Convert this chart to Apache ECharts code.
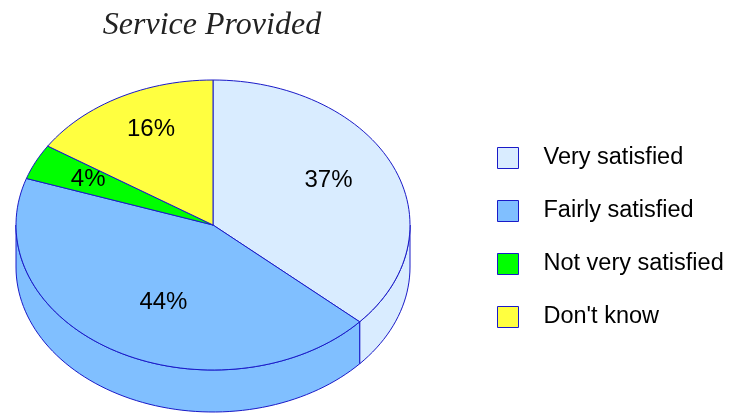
<!DOCTYPE html>
<html>
<head>
<meta charset="utf-8">
<title>Service Provided</title>
<script src="https://cdn.jsdelivr.net/npm/echarts@6/dist/echarts.min.js"></script>
<style>
html,body{margin:0;padding:0;background:#fff;}
#main{width:731px;height:414px;}
</style>
</head>
<body>
<div id="main"></div>
<script>
var names=['Very satisfied','Fairly satisfied','Not very satisfied',"Don't know"];
var values=[37,44,4,16];
var colors=['#d9ecff','#80bfff','#00ff00','#ffff40'];
var lineColor='#1a1ac8';

// ellipse layout of the tilted pie
var cx=213,cy=225,rx=197,ry=145,depth=42;
// small hand nudges for the % labels
var labelNudge=[[-5,-2],[17,-4],[-6,0],[1,-7]];
var total=0;
for(var i=0;i<values.length;i++){ total+=values[i]; }

function pt(deg,dy){
	var r=deg*Math.PI/180;
	return [cx+rx*Math.sin(r), cy-ry*Math.cos(r)+(dy||0)];
}
function arc(a,b,dy){
	var out=[];
	var n=Math.max(2,Math.ceil((b-a)/2));
	for(var k=0;k<=n;k++){
		out.push(pt(a+(b-a)*k/n,dy));
	}
	return out;
}

function makeSlice(idx){
	return function(params,api){
		var v=api.value(0);
		var start=0;
		for(var j=0;j<idx;j++){ start+=values[j]; }
		var a=start/total*360, b=(start+v)/total*360;
		var kids=[];
		// front wall, only the part facing us
		var s=Math.max(a,90), e=Math.min(b,270);
		if(e>s){
			var side=arc(s,e,0).concat(arc(s,e,depth).reverse());
			kids.push({type:'polygon',shape:{points:side},style:{fill:colors[idx],stroke:lineColor,lineWidth:1}});
		}
		var top=[[cx,cy]].concat(arc(a,b,0));
		kids.push({type:'polygon',shape:{points:top},style:{fill:colors[idx],stroke:lineColor,lineWidth:1}});
		var m=(a+b)/2*Math.PI/180;
		kids.push({
			type:'text',
			x:cx+rx*0.67*Math.sin(m)+labelNudge[idx][0],
			y:cy-ry*0.67*Math.cos(m)-3+labelNudge[idx][1],
			style:{
				text:v+'%',
				fill:'#000',
				font:'24px "Liberation Sans", Arial, sans-serif',
				align:'center',
				verticalAlign:'middle'
			}
		});
		return {type:'group',children:kids};
	};
}

var series=[];
for(var i=0;i<names.length;i++){
	series.push({
		type:'custom',
		name:names[i],
		coordinateSystem:'none',
		itemStyle:{color:colors[i],borderColor:lineColor,borderWidth:1},
		data:[values[i]],
		renderItem:makeSlice(i)
	});
}

var echart=echarts.init(document.getElementById('main'));
var option={
	animation:false,
	backgroundColor:'#fff',
	title:{
		text:'Service Provided',
		left:212,
		top:10,
		padding:0,
		textAlign:'center',
		textStyle:{
			fontFamily:'"Liberation Serif", serif',
			fontStyle:'italic',
			fontWeight:'normal',
			fontSize:32,
			color:'#222'
		}
	},
	legend:{
		orient:'vertical',
		left:497,
		top:146,
		padding:0,
		itemWidth:21,
		itemHeight:21,
		itemGap:29,
		icon:'rect',
		selectedMode:false,
		data:names,
		itemStyle:{borderColor:lineColor,borderWidth:1},
		textStyle:{
			fontFamily:'"Liberation Sans", Arial, sans-serif',
			fontSize:23.5,
			lineHeight:21,
			color:'#000',
			padding:[0,0,0,20]
		}
	},
	series:series
};
echart.setOption(option);
</script>
</body>
</html>
